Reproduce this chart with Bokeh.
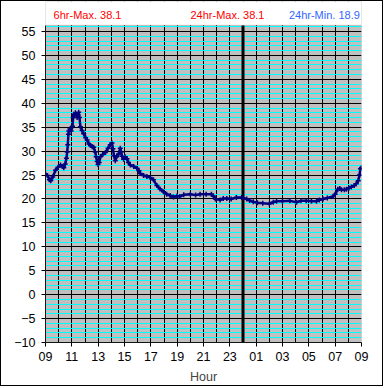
from bokeh.plotting import figure
from bokeh.models import Range1d, FixedTicker, SingleIntervalTicker, Label, BoxAnnotation
from bokeh.embed import file_html
from bokeh.resources import INLINE

# hours after 09:00 and temperature readings
hours = [0.00, 0.15, 0.30, 0.40, 0.55, 0.76, 0.95, 1.14, 1.30, 1.39, 1.50, 1.59, 1.65, 1.69, 1.74,
         1.77, 1.85, 1.95, 2.05, 2.10, 2.14, 2.22, 2.27, 2.35, 2.40, 2.47, 2.52, 2.58, 2.65, 2.78,
         2.90, 3.05, 3.16, 3.30, 3.41, 3.55, 3.66, 3.78, 3.85, 3.92, 3.99, 4.08, 4.17, 4.35, 4.55,
         4.75, 4.92, 5.05, 5.12, 5.20, 5.30, 5.40, 5.55, 5.68, 5.75, 5.81, 5.93, 6.05, 6.19, 6.30,
         6.44, 6.70, 6.95, 7.10, 7.20, 7.45, 7.70, 7.95, 8.20, 8.46, 8.70, 8.96, 9.20, 9.47, 9.72,
         9.98, 10.20, 10.50, 11.00, 11.40, 11.74, 12.20, 12.60, 12.75, 12.90, 13.26, 13.50, 13.77,
         14.10, 14.50, 14.90, 15.28, 15.50, 15.78, 16.10, 16.50, 17.00, 17.30, 17.55, 18.00, 18.56,
         19.07, 19.40, 19.80, 20.20, 20.58, 20.80, 21.08, 21.40, 21.84, 22.00, 22.20, 22.35, 22.48,
         22.70, 22.86, 23.05, 23.23, 23.45, 23.60, 23.75, 23.85, 23.92, 24.00]
temps = [25.2, 24.9, 24.0, 23.8, 24.6, 26.0, 26.6, 27.1, 26.8, 26.5, 27.3, 28.5, 29.8, 31.3, 33.5,
         34.2, 34.6, 34.2, 35.2, 37.0, 37.7, 37.5, 38.0, 37.6, 37.0, 37.6, 38.1, 37.0, 35.1, 34.3,
         33.6, 32.8, 32.3, 31.5, 31.2, 30.9, 30.8, 29.8, 28.8, 27.8, 27.2, 27.6, 28.8, 29.3, 29.7,
         30.6, 31.3, 31.7, 30.5, 29.0, 28.0, 28.8, 29.4, 30.6, 29.8, 28.9, 28.3, 28.8, 28.4, 27.6,
         27.1, 26.8, 26.4, 25.9, 25.3, 24.9, 24.7, 24.5, 24.0, 22.8, 22.1, 21.5, 21.0, 20.7, 20.4,
         20.6, 20.5, 20.9, 21.0, 20.8, 21.0, 21.0, 21.0, 20.6, 20.0, 19.8, 20.1, 20.1,
         20.0, 20.3, 20.3, 20.0, 19.7, 19.4, 19.2, 19.1, 19.0, 19.3, 19.5, 19.5, 19.6,
         19.3, 19.6, 19.6, 19.5, 19.5, 19.8, 20.0, 20.2, 20.5, 21.0, 22.0, 22.2, 21.9,
         21.9, 22.0, 22.3, 22.5, 22.8, 23.2, 23.8, 25.0, 26.3, 26.5]

x_tick_pos = [0, 2, 4, 6, 8, 10, 12, 14, 16, 18, 20, 22, 24]
x_tick_labels = ["09", "11", "13", "15", "17", "19", "21", "23", "01", "03", "05", "07", "09"]
y_ticks = [-10, -5, 0, 5, 10, 15, 20, 25, 30, 35, 40, 45, 50, 55]
header_texts = ["6hr-Max. 38.1", "24hr-Max. 38.1", "24hr-Min. 18.9"]
header_colors = ["#FF0000", "#FF0000", "#3366FF"]
midnight = 15
y_lo, y_hi = -10, 56.3

FONT = "Liberation Sans"

p = figure(width=383, height=386, output_backend="svg", toolbar_location=None,
           x_range=Range1d(0, 24), y_range=Range1d(y_lo, 61.26),
           background_fill_color="#C0C0C0", border_fill_color="white",
           min_border_left=44, min_border_right=23, min_border_top=0, min_border_bottom=45)
p.styles = {"border": "1px solid black"}
p.outline_line_color = None

# grids
p.xgrid.ticker = SingleIntervalTicker(interval=1)
p.xgrid.grid_line_color = "black"
p.xgrid.grid_line_width = 1
p.ygrid.ticker = FixedTicker(ticks=y_ticks, minor_ticks=[v for v in range(-10, 57)])
p.ygrid.grid_line_color = "black"
p.ygrid.grid_line_width = 1
p.ygrid.minor_grid_line_color = "#00FFFF"
p.ygrid.minor_grid_line_width = 1
p.ygrid.level = "underlay"
p.xgrid.level = "image"

# axes
p.xaxis.ticker = FixedTicker(ticks=x_tick_pos)
p.xaxis.major_label_overrides = {t: l for t, l in zip(x_tick_pos, x_tick_labels)}
p.yaxis.ticker = FixedTicker(ticks=y_ticks)
p.yaxis.bounds = (y_lo, y_hi)
for ax in (p.xaxis[0], p.yaxis[0]):
    ax.axis_line_color = "black"
    ax.major_tick_line_color = "black"
    ax.major_tick_in = 0
    ax.major_tick_out = 4
    ax.minor_tick_line_color = None
    ax.major_label_text_font = FONT
    ax.major_label_text_font_size = "12.5px"
    ax.major_label_text_color = "black"
p.xaxis.major_label_standoff = 5
p.yaxis.major_label_standoff = 6
p.xaxis.axis_label = "Hour"
p.xaxis.axis_label_text_font = FONT
p.xaxis.axis_label_text_font_size = "12.5px"
p.xaxis.axis_label_text_font_style = "normal"
p.xaxis.axis_label_standoff = 6

# midnight divider
p.segment(x0=[midnight], y0=[y_lo], x1=[midnight], y1=[y_hi], line_color="black", line_width=3)

p.line(hours, temps, line_color="#000080", line_width=2.5)
p.scatter(hours, temps, marker="cross", size=5, line_color="#000080", line_width=1.5)

# white header strip above the plotting area, and the plot area's grey border
p.add_layout(BoxAnnotation(bottom=y_hi, fill_color="white", fill_alpha=1, line_color=None))
p.add_layout(BoxAnnotation(bottom=y_lo, top=y_hi, left=0, right=24, fill_alpha=0,
                           line_color="#808080", line_width=1))

for txt, col, cx in zip(header_texts, header_colors, [3.19, 13.82, 21.18]):
    p.add_layout(Label(x=cx, y=58.4, text=txt,
                       text_color=col, text_font=FONT, text_font_size="11px",
                       text_align="center", text_baseline="middle"))

open("out.html", "w").write(file_html(p, INLINE))
